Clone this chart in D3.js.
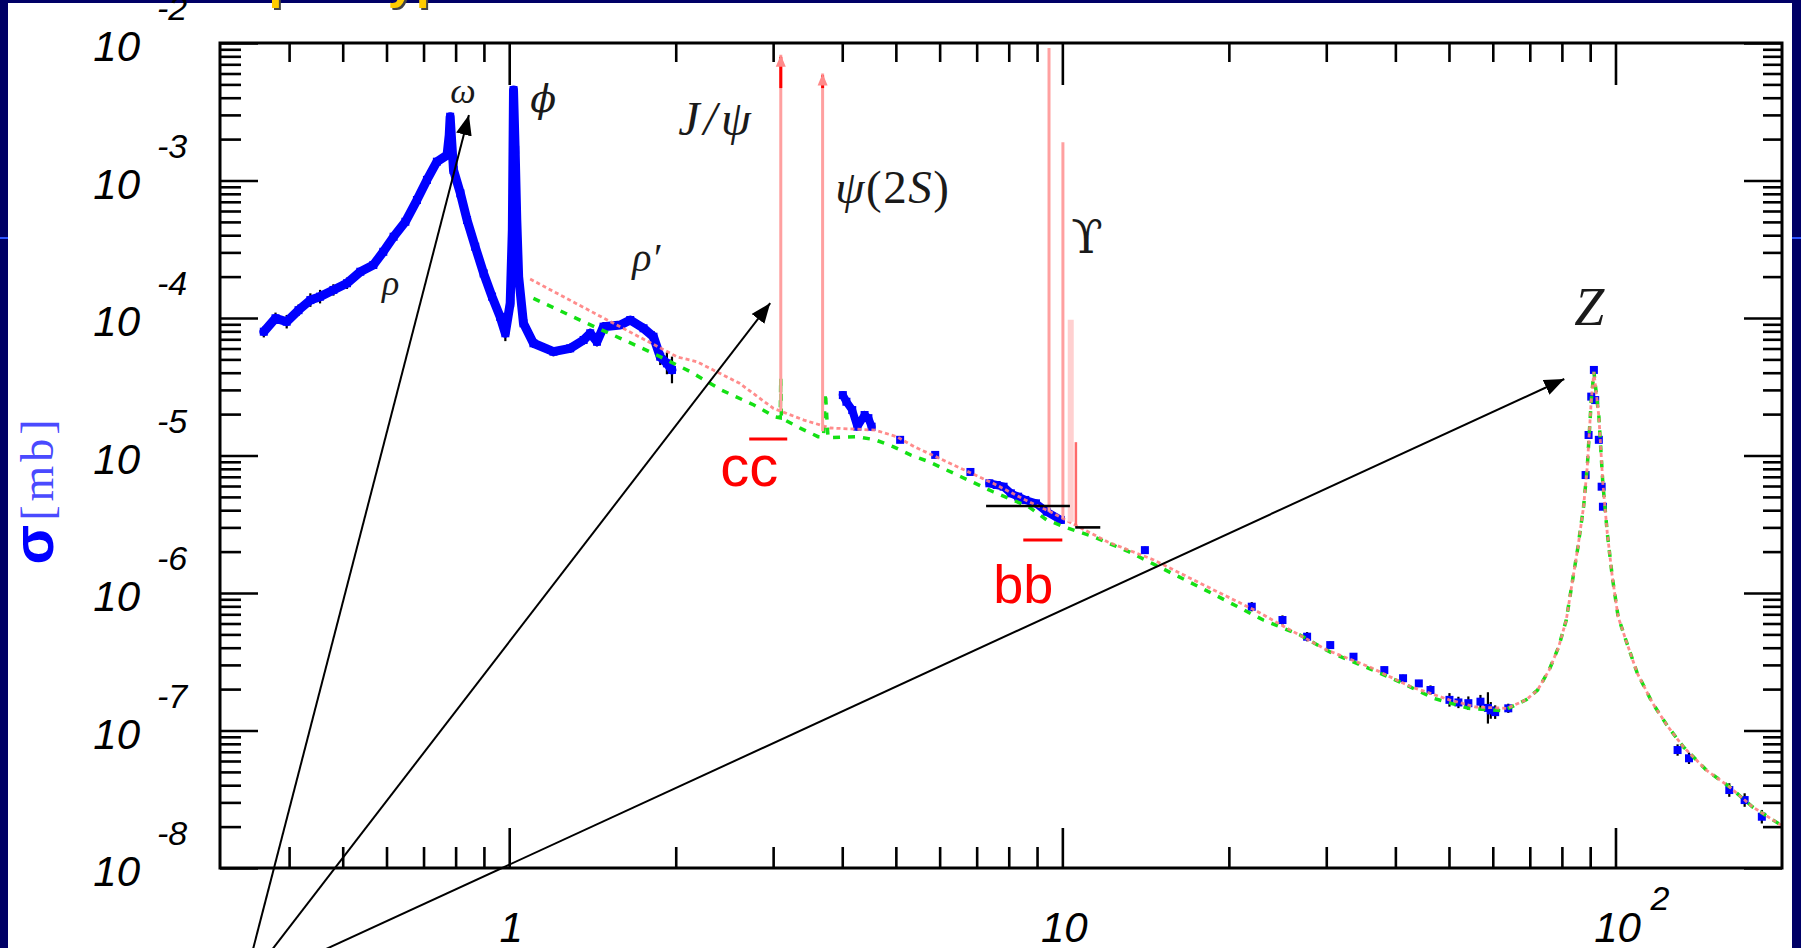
<!DOCTYPE html>
<html>
<head>
<meta charset="utf-8">
<script src="https://cdn.jsdelivr.net/npm/d3@7"></script>
<style>
body{margin:0;background:#fff;}
svg{display:block;}
.tick line{stroke:#000;stroke-width:2.6;}
.domain{display:none;}
</style>
</head>
<body>
<script>
var W=1801,H=948;
var margin={top:43,right:19,bottom:80,left:220};

// sqrt(s) [GeV], sigma [mb], relative error
var lowEnergyData=[
 [0.360,7.95e-5,0.10],[0.378,9.95e-5,0.10],[0.396,9.40e-5,0.12],[0.416,1.14e-4,0.10],
 [0.437,1.35e-4,0.12],[0.455,1.43e-4,0.12],[0.481,1.60e-4,0.10],[0.509,1.79e-4,0.10],
 [0.538,2.17e-4,0.06],[0.568,2.43e-4,0.06],[0.592,3.03e-4,0.08],[0.618,3.90e-4,0.06],
 [0.649,5.01e-4,0.05],[0.681,7.21e-4,0.05],[0.710,1.01e-3,0.04],[0.740,1.37e-3,0.04],
 [0.772,1.53e-3,0.04],[0.779,2.14e-3,0.03],[0.782,2.91e-3,0.03],[0.793,1.19e-3,0.04],
 [0.816,8.07e-4,0.04],[0.839,5.16e-4,0.05],[0.868,3.30e-4,0.05],[0.899,2.11e-4,0.06],
 [0.931,1.43e-4,0.08],[0.963,1.02e-4,0.10],[0.984,7.74e-5,0.14],[1.004,1.28e-4,0.10],
 [1.013,4.37e-4,0.05],[1.018,4.55e-3,0.03],[1.025,1.67e-3,0.04],[1.032,5.16e-4,0.05],
 [1.040,2.00e-4,0.08],[1.061,9.15e-5,0.08],[1.106,6.55e-5,0.08],[1.202,5.69e-5,0.08],
 [1.289,6.02e-5,0.08],[1.363,6.92e-5,0.08],[1.401,7.74e-5,0.08],[1.441,6.72e-5,0.08],
 [1.481,8.65e-5,0.08],[1.588,8.89e-5,0.06],[1.655,9.67e-5,0.06],[1.749,8.42e-5,0.08],
 [1.823,7.31e-5,0.10],[1.875,5.23e-5,0.15],[1.928,4.68e-5,0.20],[1.969,4.19e-5,0.25]
];
var highEnergyData=[
 [4.01,2.75e-5,0.06],[4.07,2.46e-5,0.06],[4.17,2.14e-5,0.06],[4.26,1.62e-5,0.06],
 [4.39,1.97e-5,0.06],[4.46,1.87e-5,0.06],[4.52,1.62e-5,0.06],[5.09,1.30e-5,0.05],
 [5.89,1.01e-5,0.05],[6.82,7.59e-6,0.05],[7.38,6.28e-6,0.05],[7.61,6.10e-6,0.05],
 [7.83,5.93e-6,0.05],[8.07,5.31e-6,0.05],[8.32,5.02e-6,0.05],[8.57,4.75e-6,0.05],
 [8.96,4.49e-6,0.05],[9.37,3.90e-6,0.05],[9.94,3.40e-6,0.05],[14.1,2.05e-6,0.06],
 [22.0,7.95e-7,0.08],[25.0,6.36e-7,0.08],[27.7,4.81e-7,0.08],[30.5,4.18e-7,0.06],
 [33.6,3.44e-7,0.06],[38.2,2.75e-7,0.06],[41.3,2.40e-7,0.06],[44.1,2.20e-7,0.06],
 [46.3,1.97e-7,0.08],[50.1,1.67e-7,0.12],[52.0,1.60e-7,0.10],[54.2,1.58e-7,0.12],
 [57.0,1.62e-7,0.12],[58.8,1.46e-7,0.30],[59.5,1.40e-7,0.15],[60.6,1.36e-7,0.12],
 [64.0,1.45e-7,0.08],[88.3,7.21e-6,0.04],[89.4,1.41e-5,0.04],[90.4,2.68e-5,0.03],
 [91.4,4.19e-5,0.03],[91.9,2.53e-5,0.03],[93.3,1.30e-5,0.04],[94.4,5.93e-6,0.04],
 [94.9,4.24e-6,0.05],[129.5,7.21e-8,0.10],[135.8,6.28e-8,0.10],[160.6,3.69e-8,0.12],
 [171.2,3.12e-8,0.12],[183.9,2.36e-8,0.12]
];

// theory curves
var redLow=[
 [1.091,1.92e-4],[1.504,9.67e-5],[2.013,5.21e-5],[2.183,4.81e-5],[2.609,3.35e-5],
 [3.004,2.20e-5],[3.41,1.81e-5],[3.805,1.585e-5],[4.588,1.53e-5],[5.017,1.37e-5],
 [5.397,1.16e-5],[5.99,9.54e-6],[6.457,8.29e-6],[7.494,6.28e-6],[8.695,4.61e-6],
 [9.508,3.90e-6],[10.55,3.12e-6],[12.06,2.36e-6],[14.63,1.74e-6],[17.76,1.176e-6],
 [22.56,7.31e-7],[25.19,5.69e-7],[30.06,3.85e-7],[35.83,2.91e-7],[42.7,2.08e-7],
 [50.06,1.67e-7],[56.02,1.48e-7],[63.64,1.45e-7]
];
var greenLow=[
 [1.106,1.39e-4],[1.382,9.15e-5],[1.588,7.12e-5],[1.821,5.54e-5],[2.125,4.07e-5],
 [2.421,2.99e-5],[2.769,2.33e-5],[3.026,1.91e-5],[3.09,1.88e-5],[3.097,3.66e-5],
 [3.105,1.87e-5],[3.358,1.58e-5],[3.617,1.37e-5],[3.70,1.36e-5],[3.73,2.85e-5],
 [3.77,1.35e-5],[4.258,1.37e-5],[4.588,1.30e-5],[4.943,1.16e-5],[5.324,1.008e-5],
 [5.734,9.02e-6],[6.557,7.01e-6],[7.494,5.45e-6],[8.695,4.24e-6],[9.367,3.40e-6],
 [10.08,3.03e-6],[11.36,2.57e-6],[13.18,2.00e-6],[18.63,9.95e-7],[23.08,6.36e-7],
 [26.89,4.95e-7],[30.76,3.64e-7],[35.27,2.91e-7],[40.7,2.26e-7],[46.99,1.71e-7],
 [54.25,1.45e-7],[62.64,1.39e-7]
];
var zLineshape=[
 [68.93,1.67e-7],[72.3,1.97e-7],[75.86,2.75e-7],[78.95,4.07e-7],[81.47,6.36e-7],
 [83.47,1.176e-6],[85.47,2.12e-6],[87.56,4.24e-6],[88.92,8.29e-6],[90.41,2.53e-5],
 [91.41,4.05e-5],[93.33,1.91e-5],[94.87,6.28e-6],[96.65,2.72e-6],[98.68,1.31e-6],
 [101.1,6.72e-7],[104.4,4.55e-7],[109.5,2.61e-7],[116.7,1.58e-7],[124.4,1.066e-7],
 [132.6,7.62e-8],[145.9,5.16e-8],[160.6,3.90e-8],[176.8,2.79e-8],[199.2,2.05e-8]
];

// narrow resonances: J/psi, psi(2S), Upsilon(1S..4S)
var resMass=[3.097,3.686,9.460,10.023,10.355,10.580];
var resPeak=[8.2e-3,6.0e-3,9.2e-3,1.9e-3,9.7e-5,1.25e-5];
var resBase=[2.1e-5,1.5e-5,3.9e-6,3.5e-6,3.3e-6,3.1e-6];

// E range and sigma of the two black bars near the Upsilon
var blackBars=[[7.28,10.32,4.29e-6],[10.55,11.71,3.00e-6]];

var xMajor=[1,10,100];
var xMinor=[0.4,0.5,0.6,0.7,0.8,0.9,2,3,4,5,6,7,8,9,20,30,40,50,60,70,80,90];
var yMajor=[1e-8,1e-7,1e-6,1e-5,1e-4,1e-3,1e-2];
var yExp=["-8","-7","-6","-5","-4","-3","-2"];
var xLabelBase=["1","10","10"];
var xLabelExp=["","","2"];

var peakLabels=["ω","ϕ","ρ","ρ′","J/ψ","ψ(2S)","ϒ","Z"];
var peakLabelE=[0.782,1.091,0.589,1.669,2.021,3.886,10.38,84.25];
var peakLabelS=[3.66e-3,3.15e-3,1.47e-4,2.2e-4,2.14e-3,6.86e-4,2.97e-4,8.89e-5];
var quarkLabels=["c","b"];
var quarkLabelE=[2.407,7.5];
var quarkLabelS=[6.0e-6,8.45e-7];

// arrows: common origin below the axis, tips near the resonances
var arrowFrom=[0.3304,1.36e-9];
var arrowTo=[[0.8455,2.99e-3],[2.964,1.285e-4],[80.8,3.60e-5]];

var xscale=d3.scaleLog().domain([0.3,200]).range([margin.left,W-margin.right]);
var yscale=d3.scaleLog().domain([1e-8,1e-2]).range([H-margin.bottom,margin.top]);
var x0=margin.left,x1=W-margin.right,y0=margin.top,y1=H-margin.bottom;

var svg=d3.select("body").append("svg").attr("width",W).attr("height",H);

// slide background
svg.append("rect").attr("width",W).attr("height",H).attr("fill","#000066");
svg.append("rect").attr("x",8).attr("y",3).attr("width",1784).attr("height",H-3).attr("fill","#fff");
svg.append("rect").attr("x",0).attr("y",237).attr("width",8).attr("height",2).attr("fill","#2f55ff");
svg.append("rect").attr("x",1792).attr("y",237).attr("width",9).attr("height",2).attr("fill","#2f55ff");

// slide title, only its lowest part is inside the picture
var title=svg.append("g").attr("font-family","Liberation Sans, Arial, sans-serif").attr("font-weight","bold").attr("font-size",50);
title.append("text").attr("x",137).attr("y",0).attr("fill","#444").text("Example: typical cross section");
title.append("text").attr("x",135).attr("y",-2).attr("fill","#ffcc00").text("Example: typical cross section");

// axes (ticks inside the frame)
var yMinor=[];
yMajor.slice(0,-1).forEach(function(d){[2,3,4,5,6,7,8,9].forEach(function(k){yMinor.push(k*d);});});

svg.append("g").attr("transform","translate(0,"+y1+")").call(d3.axisBottom(xscale).tickValues(xMajor).tickSize(-40).tickFormat(""));
svg.append("g").attr("transform","translate(0,"+y1+")").call(d3.axisBottom(xscale).tickValues(xMinor).tickSize(-21).tickFormat(""));
svg.append("g").attr("transform","translate(0,"+y0+")").call(d3.axisTop(xscale).tickValues(xMajor).tickSize(-42).tickFormat(""));
svg.append("g").attr("transform","translate(0,"+y0+")").call(d3.axisTop(xscale).tickValues(xMinor).tickSize(-19).tickFormat(""));
svg.append("g").attr("transform","translate("+x0+",0)").call(d3.axisLeft(yscale).tickValues(yMajor).tickSize(-38).tickFormat(""));
svg.append("g").attr("transform","translate("+x0+",0)").call(d3.axisLeft(yscale).tickValues(yMinor).tickSize(-21).tickFormat(""));
svg.append("g").attr("transform","translate("+x1+",0)").call(d3.axisRight(yscale).tickValues(yMajor).tickSize(-38).tickFormat(""));
svg.append("g").attr("transform","translate("+x1+",0)").call(d3.axisRight(yscale).tickValues(yMinor).tickSize(-19).tickFormat(""));

var lab=svg.append("g").attr("font-family","Liberation Sans, Arial, sans-serif").attr("font-style","italic").attr("fill","#000");
yMajor.forEach(function(v,i){
	lab.append("text").attr("x",140).attr("y",yscale(v)+18).attr("text-anchor","end").attr("font-size",42).text("10");
	lab.append("text").attr("x",157).attr("y",yscale(v)-23).attr("font-size",34).text(yExp[i]);
});
xMajor.forEach(function(v,i){
	var cx=xscale(v)+2;
	lab.append("text").attr("x",cx).attr("y",942).attr("text-anchor","middle").attr("font-size",42).text(xLabelBase[i]);
	if(xLabelExp[i]) lab.append("text").attr("x",cx+33).attr("y",910).attr("font-size",34).text(xLabelExp[i]);
});

// y title
var yt=svg.append("text").attr("transform","translate(53,490) rotate(-90)").attr("text-anchor","middle").attr("fill","#0000ff");
yt.append("tspan").attr("font-family","Liberation Sans, Arial, sans-serif").attr("font-weight","bold").attr("font-size",58).text("σ");
yt.append("tspan").attr("font-family","Liberation Serif, serif").attr("font-size",46).attr("letter-spacing",4).attr("fill","#4a4aff").attr("dx",4).text("[mb]");

var line=d3.line().x(function(d){return xscale(d[0]);}).y(function(d){return yscale(d[1]);});
var plot=svg.append("g");

// error bars
var allData=lowEnergyData.concat(highEnergyData);
plot.selectAll(".err").data(allData).enter().append("line")
	.attr("x1",function(d){return xscale(d[0]);}).attr("x2",function(d){return xscale(d[0]);})
	.attr("y1",function(d){return yscale(d[1]*(1+d[2]));}).attr("y2",function(d){return yscale(d[1]/(1+d[2]));})
	.attr("stroke","#000").attr("stroke-width",2.2);

// data: dense scans drawn as a band, sparse points as squares
var charmScan=highEnergyData.filter(function(d){return d[0]>4&&d[0]<4.6;});
var bottomScan=highEnergyData.filter(function(d){return d[0]>7&&d[0]<10;});
[lowEnergyData,charmScan,bottomScan].forEach(function(s,i){
	plot.append("path").datum(s).attr("d",line).attr("fill","none").attr("stroke","#0000ff")
		.attr("stroke-width",i==0?9:8).attr("stroke-linejoin","round").attr("stroke-linecap","round");
});
plot.selectAll(".pt").data(allData).enter().append("rect")
	.attr("x",function(d){return xscale(d[0])-4;}).attr("y",function(d){return yscale(d[1])-4;})
	.attr("width",8).attr("height",8).attr("fill","#0000ff");

// theory
plot.append("path").datum(greenLow.concat(zLineshape)).attr("d",line).attr("fill","none").attr("stroke","#14e014").attr("stroke-width",3.5).attr("stroke-dasharray","7,8");
plot.append("path").datum(redLow.concat(zLineshape)).attr("d",line).attr("fill","none").attr("stroke","#ff7f7f").attr("stroke-width",2.8).attr("stroke-dasharray","4,3").attr("stroke-opacity",0.9);

var resColor=["#ffa0a0","#ffa0a0","#ffa0a0","#ffa0a0","#ffd0d0","#ff6a6a"];
var resWidth=[3,3,3,3,6,2.5];
resMass.forEach(function(m,i){
	plot.append("line").attr("x1",xscale(m)).attr("x2",xscale(m)).attr("y1",yscale(resBase[i])).attr("y2",yscale(resPeak[i]))
		.attr("stroke",resColor[i]).attr("stroke-width",resWidth[i]);
	if(i<2){
		plot.append("line").attr("x1",xscale(m)).attr("x2",xscale(m)).attr("y1",yscale(resPeak[i])+2).attr("y2",yscale(4.7e-3))
			.attr("stroke","#ff0000").attr("stroke-width",3);
		var tx=xscale(m),ty=yscale(resPeak[i]);
		plot.append("path").attr("d","M"+tx+","+ty+"L"+(tx-5)+","+(ty+12)+"L"+(tx+5)+","+(ty+12)+"Z").attr("fill","#ff8a8a");
	}
});

blackBars.forEach(function(b){
	plot.append("line").attr("x1",xscale(b[0])).attr("x2",xscale(b[1])).attr("y1",yscale(b[2])).attr("y2",yscale(b[2]))
		.attr("stroke","#000").attr("stroke-width",2.6);
});

// frame
svg.append("rect").attr("x",x0).attr("y",y0).attr("width",x1-x0).attr("height",y1-y0).attr("fill","none").attr("stroke","#000").attr("stroke-width",3);

// resonance names
var peakSize=[36,38,36,40,48,47,46,54];
var peakSpacing=[0,0,0,0,4,1.5,0,0];
var names=svg.append("g").attr("font-family","Liberation Serif, Times New Roman, serif").attr("fill","#1a1a1a");
peakLabels.forEach(function(t,i){
	var tt=names.append("text").attr("x",xscale(peakLabelE[i])).attr("y",yscale(peakLabelS[i]))
		.attr("font-size",peakSize[i]).attr("letter-spacing",peakSpacing[i]);
	if(t=="ψ(2S)"){
		tt.append("tspan").attr("font-style","italic").text("ψ");
		tt.append("tspan").text("(2");
		tt.append("tspan").attr("font-style","italic").text("S");
		tt.append("tspan").text(")");
	}else if(t=="ϒ"){
		tt.attr("font-family","DejaVu Serif, serif").text(t);
	}else if(t=="ϕ"){
		tt.attr("font-family","DejaVu Serif, serif").attr("font-style","italic").text(t);
	}else{
		tt.attr("font-style","italic").text(t);
	}
});

// c cbar, b bbar
var quarkSize=[58,54];
var overOff=[47,63];
quarkLabels.forEach(function(q,i){
	var tq=svg.append("text").attr("x",xscale(quarkLabelE[i])).attr("y",yscale(quarkLabelS[i]))
		.attr("font-family","Liberation Sans, Arial, sans-serif").attr("font-size",quarkSize[i])
		.attr("fill","#ff0000").text(q+q);
	var n=tq.node();
	var a=n.getStartPositionOfChar(1).x,b=n.getEndPositionOfChar(1).x;
	svg.append("line").attr("x1",a).attr("x2",b+9).attr("y1",yscale(quarkLabelS[i])-overOff[i]).attr("y2",yscale(quarkLabelS[i])-overOff[i])
		.attr("stroke","#ff0000").attr("stroke-width",3);
});

// arrows
svg.append("defs").append("marker").attr("id","head").attr("markerUnits","userSpaceOnUse")
	.attr("markerWidth",22).attr("markerHeight",16).attr("refX",20).attr("refY",8).attr("orient","auto")
	.append("path").attr("d","M0,0L20,8L0,16Z").attr("fill","#000");
arrowTo.forEach(function(t){
	svg.append("line").attr("x1",xscale(arrowFrom[0])).attr("y1",yscale(arrowFrom[1]))
		.attr("x2",xscale(t[0])).attr("y2",yscale(t[1]))
		.attr("stroke","#000").attr("stroke-width",2).attr("marker-end","url(#head)");
});
</script>
</body>
</html>
